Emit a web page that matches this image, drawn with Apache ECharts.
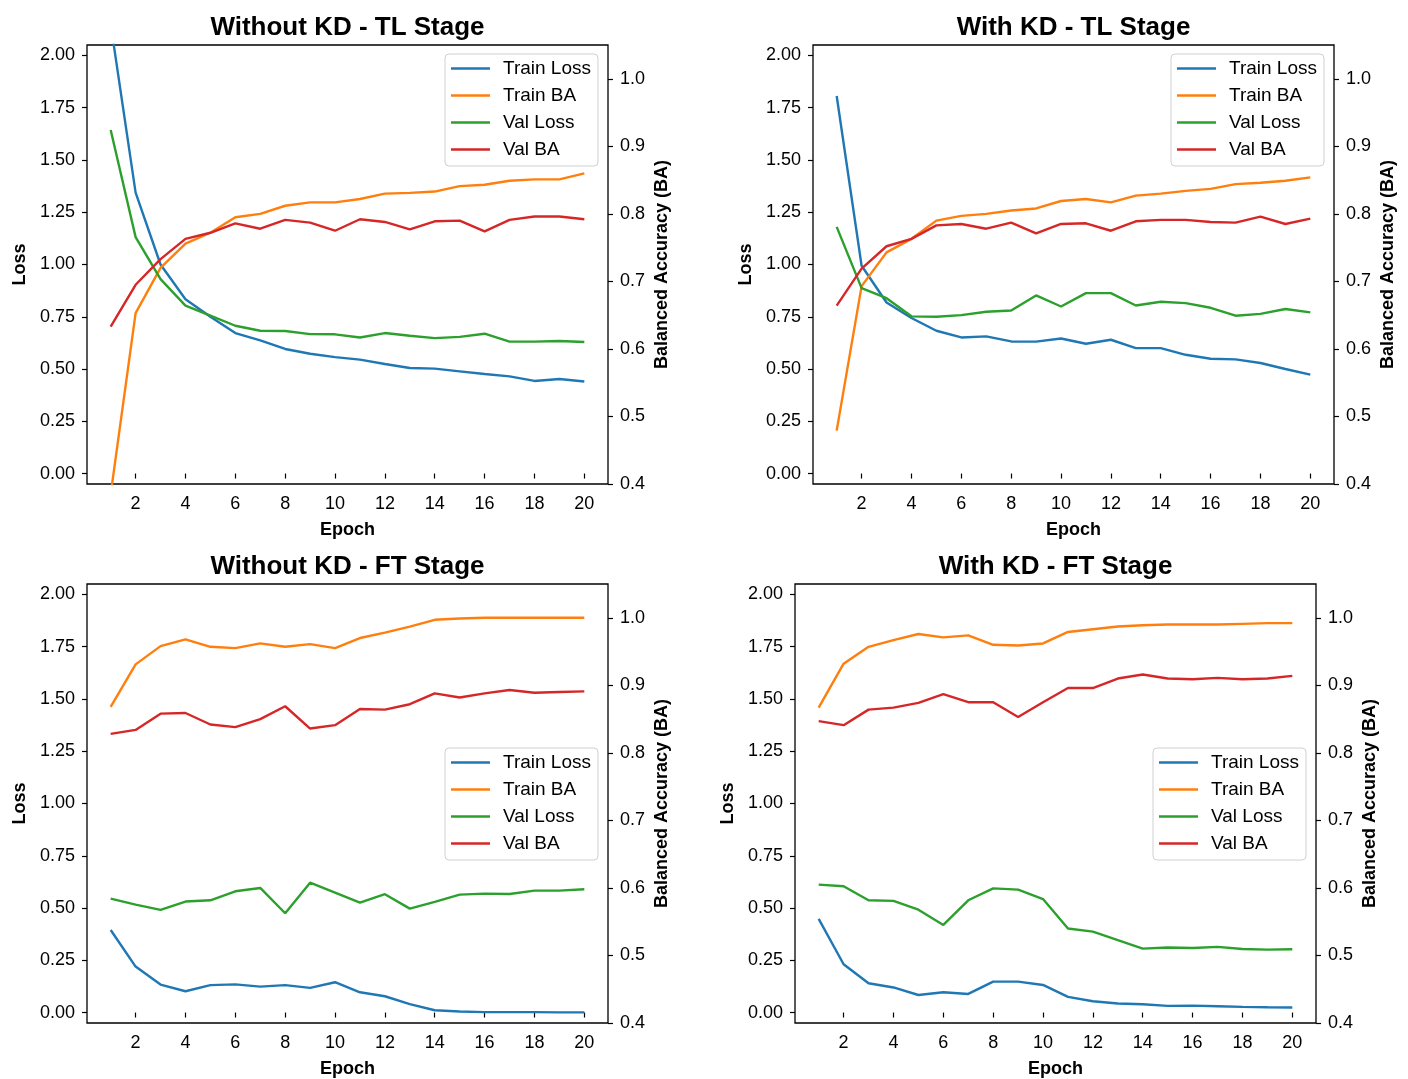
<!DOCTYPE html>
<html>
<head>
<meta charset="utf-8">
<script src="https://cdn.jsdelivr.net/npm/echarts@6/dist/echarts.min.js"></script>
<style>
html,body{margin:0;padding:0;background:#fff;}
#chart{width:1408px;height:1079px;}
</style>
</head>
<body>
<div id="chart"></div>
<script>
const epochs = [1,2,3,4,5,6,7,8,9,10,11,12,13,14,15,16,17,18,19,20];
const seriesNames = ['Train Loss','Train BA','Val Loss','Val BA'];
const titles = ['Without KD - TL Stage','With KD - TL Stage','Without KD - FT Stage','With KD - FT Stage'];
const lossTicks = [0,0.25,0.5,0.75,1.0,1.25,1.5,1.75,2.0];
const baTicks = [0.4,0.5,0.6,0.7,0.8,0.9,1.0];
const epochTicks = [2,4,6,8,10,12,14,16,18,20];

// Without KD - TL Stage
const noKdTlTrainLoss = [2.15,1.344,1.0,0.834,0.75,0.672,0.637,0.596,0.573,0.557,0.545,0.524,0.505,0.502,0.489,0.476,0.465,0.443,0.452,0.44];
const noKdTlTrainBA   = [0.385,0.653,0.72,0.756,0.772,0.795,0.80,0.812,0.817,0.817,0.822,0.83,0.831,0.833,0.841,0.843,0.849,0.851,0.851,0.86];
const noKdTlValLoss   = [1.643,1.131,0.93,0.803,0.755,0.707,0.683,0.682,0.667,0.666,0.651,0.672,0.659,0.648,0.654,0.669,0.631,0.631,0.634,0.629];
const noKdTlValBA     = [0.633,0.695,0.733,0.763,0.772,0.786,0.778,0.791,0.787,0.775,0.792,0.788,0.777,0.789,0.79,0.774,0.791,0.796,0.796,0.792];

// With KD - TL Stage
const kdTlTrainLoss = [1.806,0.994,0.818,0.744,0.683,0.651,0.656,0.632,0.631,0.646,0.621,0.640,0.600,0.600,0.568,0.549,0.546,0.529,0.500,0.473];
const kdTlTrainBA   = [0.479,0.693,0.743,0.763,0.79,0.797,0.80,0.805,0.808,0.819,0.822,0.817,0.827,0.83,0.834,0.837,0.844,0.846,0.849,0.854];
const kdTlValLoss   = [1.18,0.887,0.839,0.752,0.75,0.758,0.774,0.780,0.852,0.799,0.863,0.863,0.804,0.822,0.815,0.793,0.755,0.764,0.787,0.771];
const kdTlValBA     = [0.664,0.719,0.752,0.763,0.783,0.785,0.778,0.787,0.771,0.785,0.786,0.775,0.789,0.791,0.791,0.788,0.787,0.796,0.785,0.793];

// Without KD - FT Stage
const noKdFtTrainLoss = [0.395,0.22,0.134,0.102,0.131,0.135,0.124,0.131,0.118,0.145,0.097,0.078,0.04,0.011,0.005,0.002,0.002,0.002,0.001,0.001];
const noKdFtTrainBA   = [0.868,0.931,0.958,0.968,0.957,0.955,0.962,0.957,0.961,0.955,0.97,0.978,0.987,0.997,0.999,1.0,1.0,1.0,1.0,1.0];
const noKdFtValLoss   = [0.545,0.516,0.491,0.531,0.537,0.58,0.596,0.475,0.621,0.574,0.526,0.566,0.497,0.529,0.564,0.569,0.567,0.583,0.583,0.59];
const noKdFtValBA     = [0.828,0.834,0.858,0.859,0.842,0.838,0.85,0.869,0.836,0.841,0.865,0.864,0.872,0.888,0.882,0.888,0.893,0.889,0.89,0.891];

// With KD - FT Stage
const kdFtTrainLoss = [0.448,0.231,0.14,0.12,0.084,0.097,0.089,0.148,0.148,0.132,0.075,0.054,0.043,0.04,0.032,0.033,0.030,0.027,0.025,0.024];
const kdFtTrainBA   = [0.867,0.932,0.957,0.967,0.976,0.971,0.974,0.96,0.959,0.962,0.979,0.983,0.987,0.989,0.99,0.99,0.99,0.991,0.992,0.992];
const kdFtValLoss   = [0.612,0.604,0.537,0.534,0.492,0.419,0.537,0.594,0.588,0.543,0.402,0.387,0.346,0.306,0.311,0.309,0.314,0.304,0.301,0.303];
const kdFtValBA     = [0.847,0.841,0.864,0.867,0.874,0.887,0.875,0.875,0.853,0.875,0.896,0.896,0.91,0.916,0.91,0.909,0.911,0.909,0.91,0.914];

const panels = [
  [noKdTlTrainLoss, noKdTlTrainBA, noKdTlValLoss, noKdTlValBA],
  [kdTlTrainLoss, kdTlTrainBA, kdTlValLoss, kdTlValBA],
  [noKdFtTrainLoss, noKdFtTrainBA, noKdFtValLoss, noKdFtValBA],
  [kdFtTrainLoss, kdFtTrainBA, kdFtValLoss, kdFtValBA]
];

const colors = ['#1f77b4','#ff7f0e','#2ca02c','#d62728'];
const FONT = '"Liberation Sans", Arial, Helvetica, sans-serif';
const gridPos = [
  {left:87, top:45, width:521, height:439},
  {left:813, top:45, width:521, height:439},
  {left:87, top:584, width:521, height:439},
  {left:795, top:584, width:521, height:439}
];
const legendPos = [
  {left:445, top:54},
  {left:1171, top:54},
  {left:445, top:748},
  {left:1153, top:748}
];

const grids = [], xAxes = [], yAxes = [], series = [], legends = [], titleArr = [];
const tickStyle = {color:'#000', fontSize:18, fontFamily:FONT};
const nameStyle = {color:'#000', fontSize:18, fontWeight:'bold', fontFamily:FONT};

gridPos.forEach((g, i) => {
  grids.push(Object.assign({show:true, borderColor:'#000', borderWidth:1.3, backgroundColor:'#fff'}, g));
  titleArr.push({
    text: titles[i], left: g.left + g.width/2, top: g.top - 30, textAlign:'center', padding:0,
    textStyle:{color:'#000', fontSize:26, fontWeight:'bold', fontFamily:FONT}
  });
  xAxes.push({
    type:'value', gridIndex:i, min:0.05, max:20.95,
    name:'Epoch', nameLocation:'middle', nameGap:37, nameTextStyle:nameStyle,
    axisLine:{show:false},
    axisTick:{show:true, length:5, lineStyle:{color:'#000', width:1.2}, customValues:epochTicks},
    axisLabel:Object.assign({margin:11, customValues:epochTicks}, tickStyle),
    splitLine:{show:false}
  });
  yAxes.push({
    type:'value', gridIndex:i, position:'left', min:-0.05, max:2.05,
    name:'Loss', nameLocation:'middle', nameGap:58, nameRotate:90, nameTextStyle:nameStyle,
    axisLine:{show:false},
    axisTick:{show:true, length:5, lineStyle:{color:'#000', width:1.2}, customValues:lossTicks},
    axisLabel:Object.assign({margin:12, customValues:lossTicks, formatter:v => v.toFixed(2)}, tickStyle),
    splitLine:{show:false}
  });
  yAxes.push({
    type:'value', gridIndex:i, position:'right', min:0.4, max:1.05,
    name:'Balanced Accuracy (BA)', nameLocation:'middle', nameGap:45, nameRotate:90, nameTextStyle:nameStyle,
    axisLine:{show:false},
    axisTick:{show:true, length:5, lineStyle:{color:'#000', width:1.2}, customValues:baTicks},
    axisLabel:Object.assign({margin:12, customValues:baTicks, formatter:v => v.toFixed(1)}, tickStyle),
    splitLine:{show:false}
  });
  panels[i].forEach((arr, k) => {
    series.push({
      name: seriesNames[k], type:'line', xAxisIndex:i, yAxisIndex: i*2 + (k % 2),
      data: arr.map((v, j) => [epochs[j], v]),
      symbol:'none', clip:true, color:colors[k],
      lineStyle:{width:2.4, color:colors[k]}
    });
  });
  legends.push({
    data: seriesNames, orient:'vertical', left:legendPos[i].left, top:legendPos[i].top,
    icon:'rect', itemWidth:39, itemHeight:2.5, itemGap:8,
    padding:[5,7,7,6], backgroundColor:'rgba(255,255,255,0.85)',
    borderColor:'#d0d0d0', borderWidth:1, borderRadius:4,
    textStyle:{color:'#000', fontSize:19, fontFamily:FONT, lineHeight:19, padding:[0,0,0,8]}
  });
});

const chart = echarts.init(document.getElementById('chart'), null, {renderer:'canvas'});
chart.setOption({
  animation:false,
  backgroundColor:'#fff',
  title:titleArr,
  grid:grids,
  xAxis:xAxes,
  yAxis:yAxes,
  legend:legends,
  series:series
});
</script>
</body>
</html>
